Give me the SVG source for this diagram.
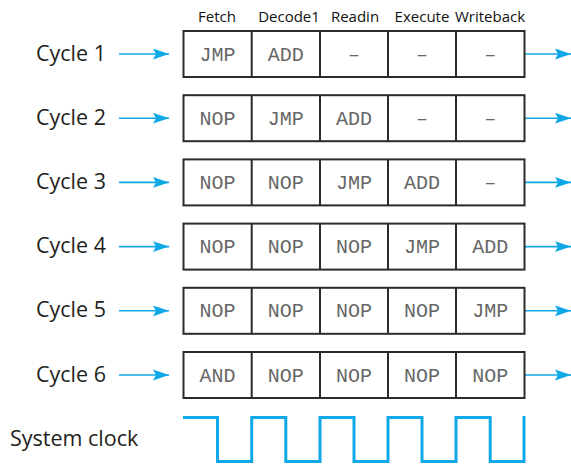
<svg xmlns="http://www.w3.org/2000/svg" width="571" height="465" viewBox="0 0 571 465">
<style>
.lbl{font-family:"Open Sans","Noto Sans","DejaVu Sans",sans-serif;font-size:21.5px;fill:#231f20}
.hdr{font-family:"Open Sans","Noto Sans","DejaVu Sans",sans-serif;font-size:15px;fill:#111;text-anchor:middle}
.cell{fill:#fff;stroke:#2b2b2b;stroke-width:2}
.div{stroke:#2b2b2b;stroke-width:2}
.ins{font-family:"Liberation Mono","Courier New",monospace;font-size:20px;fill:#666;text-anchor:middle}
.arr{stroke:#0fa8e6;stroke-width:1.6;fill:none;marker-end:url(#ah)}
.clk{stroke:#0fa8e6;stroke-width:3;fill:none}
</style>
<defs>
<marker id="ah" markerUnits="userSpaceOnUse" markerWidth="18" markerHeight="12" refX="16" refY="6" orient="auto">
<path d="M0,0.6 L16,6 L0,11.4 L3,6 Z" fill="#0fa8e6"/>
</marker>
</defs>
<g id="headers">
<text class="hdr" x="217" y="22">Fetch</text>
<text class="hdr" x="289" y="22">Decode1</text>
<text class="hdr" x="355" y="22">Readin</text>
<text class="hdr" x="422" y="22">Execute</text>
<text class="hdr" x="490" y="22">Writeback</text>
</g>
<g id="connectors">
<line class="arr" x1="119" y1="54" x2="169" y2="54"/>
<line class="arr" x1="525" y1="54" x2="571" y2="54"/>
<line class="arr" x1="119" y1="118.2" x2="169" y2="118.2"/>
<line class="arr" x1="525" y1="118.2" x2="571" y2="118.2"/>
<line class="arr" x1="119" y1="182.4" x2="169" y2="182.4"/>
<line class="arr" x1="525" y1="182.4" x2="571" y2="182.4"/>
<line class="arr" x1="119" y1="246.6" x2="169" y2="246.6"/>
<line class="arr" x1="525" y1="246.6" x2="571" y2="246.6"/>
<line class="arr" x1="119" y1="310.8" x2="169" y2="310.8"/>
<line class="arr" x1="525" y1="310.8" x2="571" y2="310.8"/>
<line class="arr" x1="119" y1="375" x2="169" y2="375"/>
<line class="arr" x1="525" y1="375" x2="571" y2="375"/>
</g>
<g id="cycle1">
<text class="lbl" x="36" y="60.5">Cycle 1</text>
<rect class="cell" x="183.5" y="31" width="341" height="46"/>
<path class="div" d="M251.7,31V77M320,31V77M388,31V77M456,31V77"/>
<text class="ins" x="217.5" y="60.5">JMP</text>
<text class="ins" x="285.8" y="60.5">ADD</text>
<text class="ins" x="354" y="60.5">–</text>
<text class="ins" x="422" y="60.5">–</text>
<text class="ins" x="490.2" y="60.5">–</text>
</g>
<g id="cycle2">
<text class="lbl" x="36" y="124.7">Cycle 2</text>
<rect class="cell" x="183.5" y="95.2" width="341" height="46"/>
<path class="div" d="M251.7,95.2V141.2M320,95.2V141.2M388,95.2V141.2M456,95.2V141.2"/>
<text class="ins" x="217.5" y="124.7">NOP</text>
<text class="ins" x="285.8" y="124.7">JMP</text>
<text class="ins" x="354" y="124.7">ADD</text>
<text class="ins" x="422" y="124.7">–</text>
<text class="ins" x="490.2" y="124.7">–</text>
</g>
<g id="cycle3">
<text class="lbl" x="36" y="188.9">Cycle 3</text>
<rect class="cell" x="183.5" y="159.4" width="341" height="46"/>
<path class="div" d="M251.7,159.4V205.4M320,159.4V205.4M388,159.4V205.4M456,159.4V205.4"/>
<text class="ins" x="217.5" y="188.9">NOP</text>
<text class="ins" x="285.8" y="188.9">NOP</text>
<text class="ins" x="354" y="188.9">JMP</text>
<text class="ins" x="422" y="188.9">ADD</text>
<text class="ins" x="490.2" y="188.9">–</text>
</g>
<g id="cycle4">
<text class="lbl" x="36" y="253.1">Cycle 4</text>
<rect class="cell" x="183.5" y="223.6" width="341" height="46"/>
<path class="div" d="M251.7,223.6V269.6M320,223.6V269.6M388,223.6V269.6M456,223.6V269.6"/>
<text class="ins" x="217.5" y="253.1">NOP</text>
<text class="ins" x="285.8" y="253.1">NOP</text>
<text class="ins" x="354" y="253.1">NOP</text>
<text class="ins" x="422" y="253.1">JMP</text>
<text class="ins" x="490.2" y="253.1">ADD</text>
</g>
<g id="cycle5">
<text class="lbl" x="36" y="317.3">Cycle 5</text>
<rect class="cell" x="183.5" y="287.8" width="341" height="46"/>
<path class="div" d="M251.7,287.8V333.8M320,287.8V333.8M388,287.8V333.8M456,287.8V333.8"/>
<text class="ins" x="217.5" y="317.3">NOP</text>
<text class="ins" x="285.8" y="317.3">NOP</text>
<text class="ins" x="354" y="317.3">NOP</text>
<text class="ins" x="422" y="317.3">NOP</text>
<text class="ins" x="490.2" y="317.3">JMP</text>
</g>
<g id="cycle6">
<text class="lbl" x="36" y="381.5">Cycle 6</text>
<rect class="cell" x="183.5" y="352" width="341" height="46"/>
<path class="div" d="M251.7,352V398M320,352V398M388,352V398M456,352V398"/>
<text class="ins" x="217.5" y="381.5">AND</text>
<text class="ins" x="285.8" y="381.5">NOP</text>
<text class="ins" x="354" y="381.5">NOP</text>
<text class="ins" x="422" y="381.5">NOP</text>
<text class="ins" x="490.2" y="381.5">NOP</text>
</g>
<g id="clock">
<text class="lbl" x="10" y="445.5">System clock</text>
<path class="clk" d="M183,417.5H217.5V461.5H251.7V417.5H285.8V461.5H320V417.5H354V461.5H388V417.5H422V461.5H456V417.5H490.2V461.5H524V416"/>
</g>
</svg>
